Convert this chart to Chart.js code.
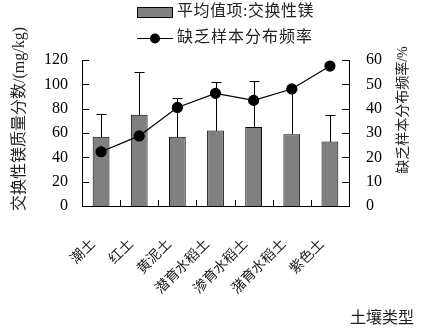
<!DOCTYPE html>
<html>
<head>
<meta charset="utf-8">
<script src="https://cdn.jsdelivr.net/npm/chart.js@4/dist/chart.umd.min.js"></script>
<style>
html, body { margin: 0; padding: 0; background: #fff; }
#wrap { width: 433px; height: 334px; }
</style>
</head>
<body>
<div id="wrap"><canvas id="soilChart"></canvas></div>
<script>
// soil types on the x axis
const soilTypes = ["潮土", "红土", "黄泥土", "潜育水稻土", "渗育水稻土", "潴育水稻土", "紫色土"];

// mean exchangeable Mg (mg/kg) and upper error (sd)
const mgMean = [57, 75, 57, 62, 65, 59, 53];
const mgError = [19, 35, 32, 40, 38, 37, 22];

// share of deficient samples (%)
const deficientRate = [22.3, 28.8, 40.5, 46.3, 43.4, 48.1, 57.5];

const leftTicks = [0, 20, 40, 60, 80, 100, 120];
const rightTicks = [0, 10, 20, 30, 40, 50, 60];

const serif = '"Liberation Serif", "Noto Sans CJK SC", serif';
const cjk = '"Noto Sans CJK SC", sans-serif';

/* ------------------------------------------ helpers --------------------------------------------- */

// upper-only error bars drawn right after the bar dataset, so the line stays on top
const errorBars = {
    id: "errorBars",
    afterDatasetDraw (chart, args) {
        if (args.index !== 0) { return; }
        const ctx = chart.ctx, y = chart.scales.y;
        ctx.save();
        ctx.strokeStyle = "#000"; ctx.lineWidth = 1;
        args.meta.data.forEach((bar, i) => {
            const x = Math.round(bar.x) + 0.5;
            const top = Math.round(y.getPixelForValue(mgMean[i] + mgError[i])) + 0.5;
            ctx.beginPath();
            ctx.moveTo(x, Math.round(bar.y)); ctx.lineTo(x, top);
            ctx.moveTo(x - 5, top); ctx.lineTo(x + 5, top);
            ctx.stroke(); });
        ctx.restore(); }
};

// inward ticks, axis titles and the two row legend
const decorations = {
    id: "decorations",
    afterDraw (chart) {
        const ctx = chart.ctx, a = chart.chartArea, s = chart.scales;
        ctx.save();
        ctx.strokeStyle = "#000"; ctx.lineWidth = 1;
        ctx.beginPath();
        leftTicks.forEach((v) => { const py = Math.round(s.y.getPixelForValue(v)) + 0.5;
            ctx.moveTo(a.left, py); ctx.lineTo(a.left + 7, py); });
        rightTicks.forEach((v) => { const py = Math.round(s.y1.getPixelForValue(v)) + 0.5;
            ctx.moveTo(a.right, py); ctx.lineTo(a.right - 7, py); });
        for (let i = 1; i < soilTypes.length; i++) {
            const px = Math.round(s.x.getPixelForValue(i - 0.5)) + 0.5;
            ctx.moveTo(px, a.bottom); ctx.lineTo(px, a.bottom - 6); }
        ctx.stroke();

        // axis titles
        ctx.fillStyle = "#222"; ctx.textAlign = "center"; ctx.textBaseline = "middle";
        ctx.font = "16px " + serif;
        ctx.save(); ctx.translate(20, 119); ctx.rotate(-Math.PI / 2);
        ctx.fillText("交换性镁质量分数/(mg/kg)", 0, 0); ctx.restore();
        ctx.font = "14px " + serif;
        ctx.save(); ctx.translate(403, 110); ctx.rotate(-Math.PI / 2);
        ctx.fillText("缺乏样本分布频率/%", 0, 0); ctx.restore();
        ctx.font = "16px " + cjk; ctx.textAlign = "left";
        ctx.fillText("土壤类型", 350, 317);

        // legend
        const bar = chart.data.datasets[0], line = chart.data.datasets[1];
        ctx.fillStyle = bar.backgroundColor; ctx.fillRect(137, 7, 36, 10);
        ctx.strokeRect(137.5, 7.5, 35, 10);
        ctx.beginPath(); ctx.moveTo(137, 38.5); ctx.lineTo(173, 38.5); ctx.stroke();
        ctx.fillStyle = "#000"; ctx.beginPath(); ctx.arc(155, 38.5, 5, 0, Math.PI * 2); ctx.fill();
        ctx.fillStyle = "#222"; ctx.font = "16px " + serif; ctx.letterSpacing = "0.5px";
        ctx.fillText(bar.label, 177, 12);
        ctx.letterSpacing = "1px";
        ctx.fillText(line.label, 177, 38);
        ctx.restore(); }
};

/* ------------------------------------------ chart ----------------------------------------------- */

new Chart("soilChart", {
    data: {
        labels: soilTypes,
        datasets: [{
            type: "bar",
            label: "平均值项:交换性镁",
            data: mgMean,
            backgroundColor: "#808080",
            borderColor: "#000",
            borderWidth: 1,
            categoryPercentage: 1,
            barPercentage: 0.44,
            yAxisID: "y",
            order: 1
        }, {
            type: "line",
            label: "缺乏样本分布频率",
            data: deficientRate,
            borderColor: "#000",
            borderWidth: 1.2,
            pointRadius: 5,
            pointBackgroundColor: "#000",
            pointBorderColor: "#000",
            tension: 0,
            yAxisID: "y1",
            order: 0
        }]
    },
    options: {
        responsive: true,
        maintainAspectRatio: false,
        animation: false,
        layout: { padding: { top: 60, left: 0, right: 0, bottom: 0 } },
        plugins: { legend: { display: false }, tooltip: { enabled: false } },
        scales: {
            x: {
                offset: true,
                grid: { display: false },
                border: { display: true, color: "#000", width: 1 },
                ticks: { color: "#222", font: { family: cjk, size: 14 }, maxRotation: 45, minRotation: 45,
                    autoSkip: false, padding: 21, labelOffset: -9 },
                afterFit (scale) { scale.height = 128; }
            },
            y: {
                position: "left", min: 0, max: 120,
                grid: { display: false },
                border: { display: true, color: "#000", width: 1 },
                ticks: { stepSize: 20, color: "#000", padding: 6, font: { family: serif, size: 16 } },
                afterFit (scale) { scale.width = 82; }
            },
            y1: {
                position: "right", min: 0, max: 60,
                grid: { display: false },
                border: { display: true, color: "#000", width: 1 },
                ticks: { stepSize: 10, color: "#000", padding: 9, font: { family: serif, size: 16 } },
                afterFit (scale) { scale.width = 84; }
            }
        }
    },
    plugins: [errorBars, decorations]
});
</script>
</body>
</html>
